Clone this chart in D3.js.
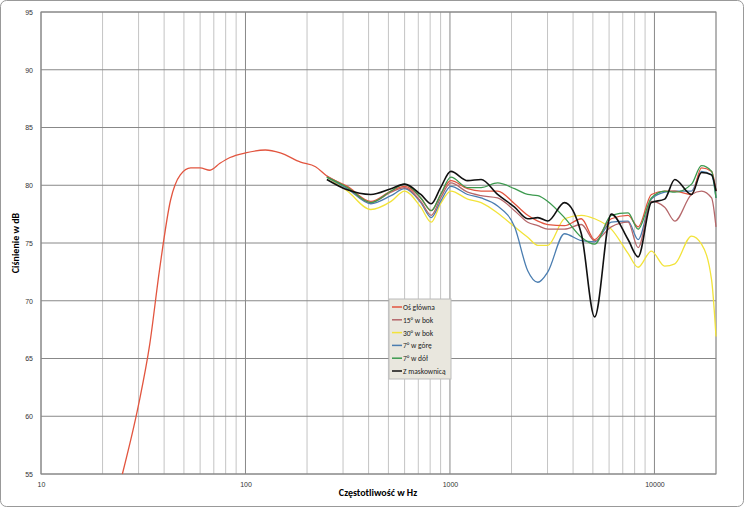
<!DOCTYPE html><html><head><meta charset="utf-8"><script src="https://cdn.jsdelivr.net/npm/d3@7"></script>
<style>body{margin:0;background:#fff}svg{font-family:Calibri,Carlito,"Liberation Sans",Arial,sans-serif}</style></head><body><svg id="c" width="744" height="507"></svg><script>
const lowFreq=[25,30,34,38,43,48,54,60,67,75,84,100,125,148,186,220,250];
const lowRed=[55,61,66.2,72.7,78.7,80.9,81.5,81.5,81.3,81.9,82.4,82.8,83.05,82.8,82.0,81.6,80.8];
const freq=[250,315,410,515,600,720,810,900,1010,1220,1420,1710,2070,2400,2690,3010,3630,4390,5100,6150,7430,8320,9660,11220,12580,15180,16990,19030,20000];
const red=[80.8,79.9,78.6,79.5,79.9,78.9,77.8,79.2,80.4,79.7,79.5,79.5,78.4,77.4,76.9,76.6,76.5,77.1,75.3,77.1,77.4,76.4,79.2,79.5,79.5,79.2,81.5,81.2,79.5];
const s15=[80.8,79.8,78.5,79.4,79.8,78.6,77.4,78.9,80.2,79.4,79.1,78.9,77.8,76.8,76.5,76.2,76.2,76.6,75.2,76.4,76.8,74.6,78.6,78.1,76.9,79.2,79.5,78.9,76.4];
const s30=[80.7,79.5,77.9,78.6,79.5,78.1,76.8,78.4,79.5,78.8,78.5,77.6,76.4,75.5,74.8,74.8,77.1,77.4,77.1,76.2,74.1,72.9,74.3,73.0,73.2,75.6,74.9,71.8,66.9];
const up7=[80.7,79.7,78.4,79.1,79.7,78.5,77.2,78.6,79.9,79.2,78.9,78.2,76.4,72.6,71.6,72.5,75.8,75.2,75.1,76.8,76.9,75.3,78.8,79.4,79.5,79.5,81.2,80.9,78.9];
const down7=[80.7,79.8,78.5,79.5,80.1,78.9,77.8,79.2,80.7,79.8,79.8,80.2,79.7,79.2,79.1,78.6,77.2,75.5,74.9,77.4,77.6,76.2,78.9,79.5,79.4,80.1,81.7,81.2,78.9];
const mask=[80.5,79.6,79.2,79.7,80.1,79.2,78.4,79.8,81.2,80.4,80.5,79.2,78.1,77.1,77.2,76.9,78.5,75.8,68.6,77.5,75.3,73.8,78.5,78.8,80.5,79.2,81.1,80.9,79.5];
const names=["Oś główna","15° w bok","30° w bok","7° w górę","7° w dół","Z maskownicą"];
const colors=["#e2553f","#b5676a","#f2e33a","#4a7db0","#3c9a4e","#111111"];
const xTicks=[10,100,1000,10000];const yTicks=[55,60,65,70,75,80,85,90,95];
const svg=d3.select("#c");
svg.append("rect").attr("x",0.5).attr("y",0.5).attr("width",743).attr("height",506).attr("rx",6).attr("fill","#fff").attr("stroke","#999");
const x=d3.scaleLog().domain([10,20000]).range([41,716]);
const y=d3.scaleLinear().domain([55,95]).range([474,12]);
const minor=[];for(let d=10;d<20000;d*=10)for(let k=1;k<10;k++){const v=d*k;if(v<=20000)minor.push(v);}
svg.append("g").selectAll("line").data(minor).join("line").attr("x1",d=>x(d)).attr("x2",d=>x(d)).attr("y1",12).attr("y2",474).attr("stroke",d=>xTicks.includes(d)?"#888":"#aaa").attr("stroke-width",d=>xTicks.includes(d)?1:0.7);
svg.append("g").selectAll("line").data(yTicks).join("line").attr("x1",41).attr("x2",716).attr("y1",d=>y(d)).attr("y2",d=>y(d)).attr("stroke","#888");
svg.append("rect").attr("x",41).attr("y",12).attr("width",675).attr("height",462).attr("fill","none").attr("stroke","#888");
const ya=svg.append("g").attr("transform","translate(41,0)").call(d3.axisLeft(y).tickValues(yTicks).tickSize(0).tickPadding(8));
const xa=svg.append("g").attr("transform","translate(0,474)").call(d3.axisBottom(x).tickValues(xTicks).tickFormat(d3.format("d")).tickSize(0).tickPadding(8));
[ya,xa].forEach(a=>{a.select(".domain").remove();a.selectAll("text").attr("font-size",7).attr("fill","#333");});
svg.append("text").attr("x",378).attr("y",496).attr("text-anchor","middle").attr("font-size",10).attr("font-weight","bold").text("Częstotliwość w Hz");
svg.append("text").attr("transform","translate(19,243) rotate(-90)").attr("text-anchor","middle").attr("font-size",10).attr("font-weight","bold").text("Ciśnienie w dB");
const line=d3.line().x(d=>x(d[0])).y(d=>y(d[1])).curve(d3.curveMonotoneX);
const redAll=lowFreq.slice(0,-1).map((f,i)=>[f,lowRed[i]]).concat(freq.map((f,i)=>[f,red[i]]));
const series=[redAll,s15,s30,up7,down7,mask].map((s,i)=>i===0?s:freq.map((f,j)=>[f,s[j]]));
const order=[2,3,1,0,4,5];
order.forEach(i=>svg.append("path").attr("d",line(series[i])).attr("fill","none").attr("stroke",colors[i]).attr("stroke-width",i===5?1.6:1.3));
const lg=svg.append("g").attr("transform","translate(389,299)");
lg.append("rect").attr("width",62).attr("height",80).attr("fill","#e9e7de").attr("stroke","#bbb");
names.forEach((n,i)=>{const g=lg.append("g").attr("transform",`translate(3,${8+i*12.8})`);
g.append("line").attr("x1",0).attr("x2",10).attr("stroke",colors[i]).attr("stroke-width",1.5);
g.append("text").attr("x",11).attr("y",3).attr("font-size",7.5).attr("fill","#222").text(n);});
</script></body></html>
